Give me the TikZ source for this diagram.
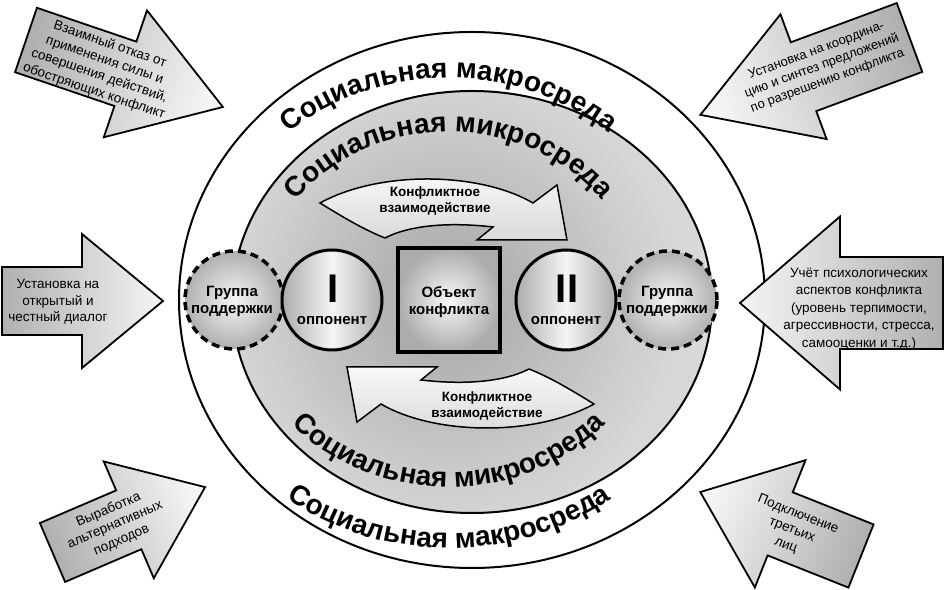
\documentclass[tikz,border=0pt]{standalone}
\usepackage{fontspec}
\setmainfont{Liberation Sans}
\usetikzlibrary{decorations.text}
\pgfdeclareradialshading{ringshade}{\pgfpoint{0bp}{0bp}}{%
 color(0bp)=(gray!66); color(6bp)=(gray!60); color(10bp)=(gray!52); color(14bp)=(gray!46); color(18bp)=(gray!38); color(22bp)=(gray!32); color(25bp)=(gray!30); color(50bp)=(gray!30)}
\newcommand{\blockarrow}[8]{%
  \begin{scope}[shift={(#1,#2)},rotate=#3]
    \draw[bigarrow,shading angle=#8] (0,#6) -- (#5,#6) -- (#5,#7) -- (#4,0) -- (#5,-#7) -- (#5,-#6) -- (0,-#6) -- cycle;
  \end{scope}}
\begin{document}
\begin{tikzpicture}[x=1pt,y=1pt,
  ring/.style={draw=black, line width=2pt},
  bigarrow/.style={draw=black, line width=1.8pt, line join=miter, top color=gray!8, bottom color=gray!62},
  curvarrow/.style={draw=black, line width=1.5pt, line join=miter, top color=gray!5, bottom color=gray!30},
  arrowtext/.style={align=center, font=\fontsize{13.5}{16.5}\selectfont, inner sep=0pt},
  ctext/.style={align=center, font=\bfseries\fontsize{13.5}{15.5}\selectfont, inner sep=0pt},
  opp/.style={circle, draw=black, line width=3pt, minimum size=100pt, inner sep=0pt, left color=gray!65, right color=gray!65, middle color=gray!8},
  grp/.style={circle, draw=black, line width=3.5pt, dash pattern=on 8pt off 5pt, minimum size=98pt, inner sep=0pt, inner color=gray!8, outer color=gray!62},
  objbox/.style={rectangle, draw=black, line width=3.5pt, minimum width=102pt, minimum height=104pt, inner sep=0pt, inner color=gray!5, outer color=gray!65},
  btext/.style={align=center, font=\bfseries\fontsize{15}{17}\selectfont, inner sep=0pt},
  numeral/.style={font=\bfseries\fontsize{40}{40}\selectfont, inner sep=0pt},
  ringtext/.style={decorate, decoration={text along path, text align=center, text={|\bfseries\fontsize{28}{30}\selectfont|#1}}},
]
\useasboundingbox (0,0) rectangle (945,589);
\fill[white] (0,0) rectangle (945,589);

% rings
\draw[ring, fill=white] (472,289) ellipse [x radius=293, y radius=268];
\begin{scope}
  \clip (472,287) ellipse [x radius=240, y radius=211];
  \fill[gray!30] (472,287) ellipse [x radius=240, y radius=211];
  \shade[shading=ringshade] (449,289) circle (260);
\end{scope}
\draw[ring] (472,287) ellipse [x radius=240, y radius=211];

% ring texts
\path[ringtext={Социальная макросреда}] (449,289) ++(150:243 and 222) arc[start angle=150, end angle=30, x radius=243, y radius=222];
\path[ringtext={Социальная микросреда}] (449,289) ++(155:190 and 168) arc[start angle=155, end angle=25, x radius=190, y radius=168];
\path[ringtext={Социальная микросреда}] (449,289) ++(205:210 and 187) arc[start angle=205, end angle=335, x radius=210, y radius=187];
\path[ringtext={Социальная макросреда}] (449,289) ++(205:272 and 248) arc[start angle=205, end angle=335, x radius=272, y radius=248];

% curved arrows
\draw[curvarrow] (320,386) .. controls (380,419) and (480,417) .. (533,386)
  -- (557,404) -- (567,349) -- (477,349) -- (493,362)
  .. controls (450,367) and (410,364) .. (385,351)
  .. controls (362,360) and (338,375) .. cycle;
\begin{scope}[rotate around={180:(457,285.5)}]
\draw[curvarrow] (320,386) .. controls (380,419) and (480,417) .. (533,386)
  -- (557,404) -- (567,349) -- (477,349) -- (493,362)
  .. controls (450,367) and (410,364) .. (385,351)
  .. controls (362,360) and (338,375) .. cycle;
\end{scope}
\node[ctext] (k1) at (435,388) {Конфликтное\\взаимодействие};
\node[ctext] (k2) at (487,183) {Конфликтное\\взаимодействие};

% centre row
\node[grp] (g1) at (234,289) {};
\node[grp] (g2) at (668,289) {};
\node[opp] (o1) at (332,289) {};
\node[opp] (o2) at (566,289) {};
\node[objbox] (obj) at (449,289) {};
\node[btext] (g1t) at (232,288) {Группа\\поддержки};
\node[btext] (g2t) at (667,288) {Группа\\поддержки};
\node[numeral] (n1) at (333,300) {I};
\node[numeral] (n2) at (567,300) {II};
\node[btext] (o1t) at (332,268) {оппонент};
\node[btext] (o2t) at (566,268) {оппонент};
\node[btext] (objt) at (449,287) {Объект\\конфликта};

% outer block arrows
\blockarrow{26}{549}{-18.8}{208}{105}{34}{67}{-108.8}
\blockarrow{909.5}{551.5}{200.3}{223}{113}{36.7}{66.5}{110.3}
\blockarrow{2}{288}{0}{161}{80}{34}{67}{-90}
\blockarrow{943}{286}{180}{203}{103}{46}{86.5}{90}
\blockarrow{52.5}{36.5}{23.2}{166}{83}{32}{63.5}{-66.8}
\blockarrow{861}{33}{158.3}{173}{87}{34}{68.5}{68.3}

\node[arrowtext, rotate=-18.8] (t1) at (102,521) {Взаимный отказ от\\применения силы и\\совершения действий,\\обостряющих конфликт};
\node[arrowtext, font=\fontsize{13}{16}\selectfont, rotate=20.3] (t2) at (822,523) {Установка на координа-\\цию и синтез предложений\\по разрешению конфликта};
\node[arrowtext] (t3) at (58,287) {Установка на\\открытый и\\честный диалог};
\node[arrowtext, font=\fontsize{13.5}{17.5}\selectfont] (t4) at (859,280) {Учёт психологических\\аспектов конфликта\\(уровень терпимости,\\агрессивности, стресса,\\самооценки и т.д.)};
\node[arrowtext, rotate=23.2] (t5) at (115,64) {Выработка\\альтернативных\\подходов};
\node[arrowtext, rotate=-21.7] (t6) at (792,59) {Подключение\\третьих\\лиц};
\end{tikzpicture}
\end{document}
